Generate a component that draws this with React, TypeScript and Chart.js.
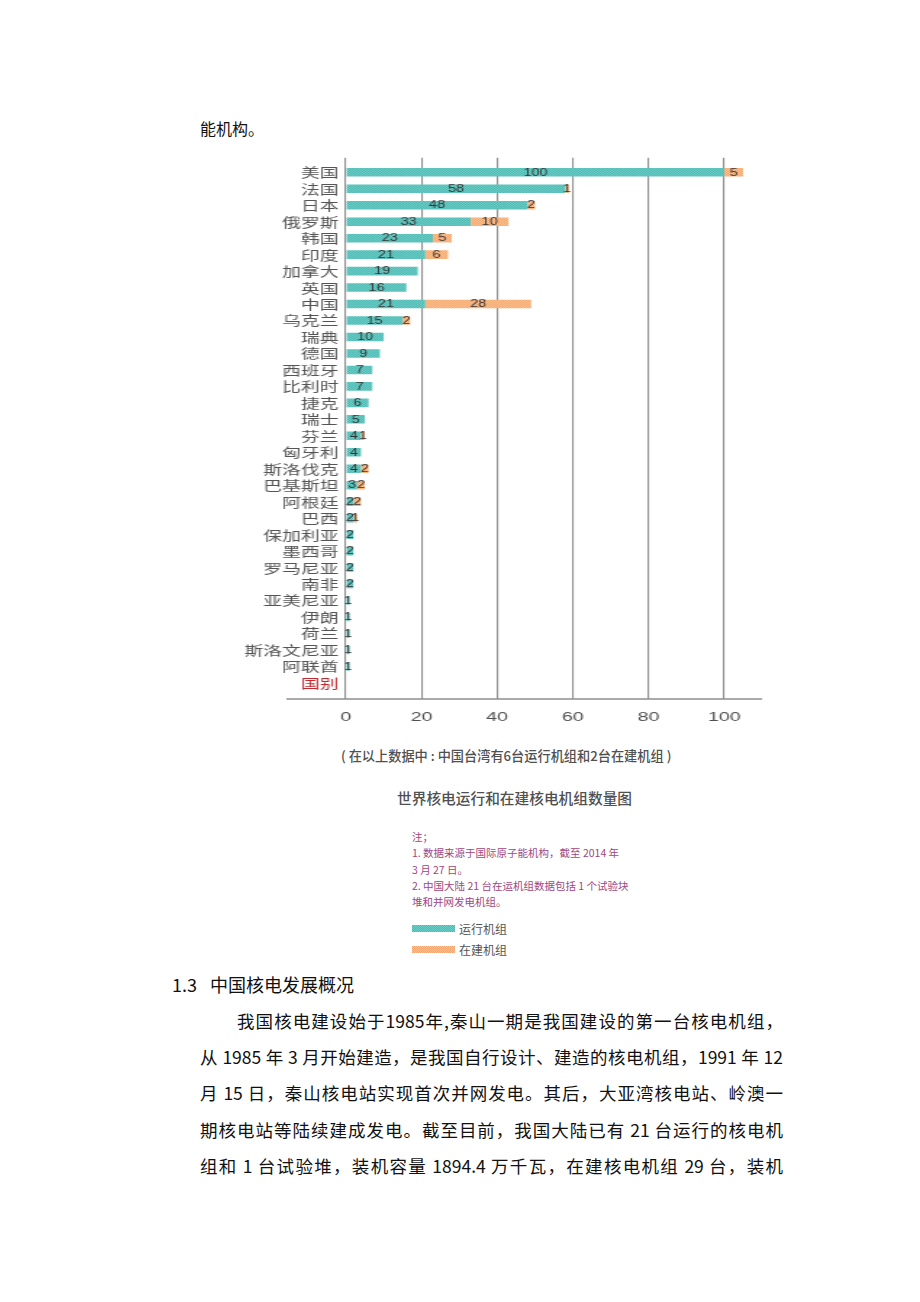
import React, { useEffect, useRef } from 'react';
import { Chart, registerables } from 'chart.js';

Chart.register(...registerables);

// ---------- data ----------
const countries = ['美国', '法国', '日本', '俄罗斯', '韩国', '印度', '加拿大', '英国', '中国', '乌克兰', '瑞典', '德国', '西班牙', '比利时', '捷克', '瑞士', '芬兰', '匈牙利', '斯洛伐克', '巴基斯坦', '阿根廷', '巴西', '保加利亚', '墨西哥', '罗马尼亚', '南非', '亚美尼亚', '伊朗', '荷兰', '斯洛文尼亚', '阿联酋'];
const axisTitle = '国别';
const operating = [100, 58, 48, 33, 23, 21, 19, 16, 21, 15, 10, 9, 7, 7, 6, 5, 4, 4, 4, 3, 2, 2, 2, 2, 2, 2, 1, 1, 1, 1, 1];
const construction = [5, 1, 2, 10, 5, 6, 0, 0, 28, 2, 0, 0, 0, 0, 0, 0, 1, 0, 2, 2, 2, 1, 0, 0, 0, 0, 0, 0, 0, 0, 0];
const xTicks = [0, 20, 40, 60, 80, 100];
const seriesNames = ['运行机组', '在建机组'];

const allLabels = [...countries, axisTitle];

const CJK = '"Noto Sans CJK SC", "Noto Sans", sans-serif';

function makePattern(base: string, dark: string): CanvasPattern | string {
  const c = document.createElement('canvas');
  c.width = 2;
  c.height = 2;
  const g = c.getContext('2d');
  if (!g) return base;
  g.fillStyle = base;
  g.fillRect(0, 0, 2, 2);
  g.fillStyle = dark;
  g.fillRect(0, 0, 1, 1);
  g.fillRect(1, 1, 1, 1);
  return g.createPattern(c, 'repeat') || base;
}

const valueLabels = {
  id: 'valueLabels',
  afterDraw(chart: any) {
    const ctx = chart.ctx;
    ctx.save();
    ctx.font = '10px "Liberation Sans", Arial, sans-serif';
    ctx.fillStyle = '#333';
    ctx.textAlign = 'center';
    ctx.textBaseline = 'middle';
    [operating, construction].forEach((src, di) => {
      const meta = chart.getDatasetMeta(di);
      meta.data.forEach((el: any, i: number) => {
        const v = src[i];
        if (!v) return;
        const p = el.getCenterPoint();
        ctx.fillText(String(v), p.x, p.y + 0.5);
      });
    });
    ctx.restore();
  },
};

const axisLine = {
  id: 'axisLine',
  afterDraw(chart: any) {
    const { ctx, chartArea } = chart;
    ctx.save();
    ctx.strokeStyle = '#8e8e8e';
    ctx.lineWidth = 1.5;
    ctx.beginPath();
    ctx.moveTo(chartArea.left - 41, chartArea.bottom);
    ctx.lineTo(chartArea.right, chartArea.bottom);
    ctx.stroke();
    ctx.restore();
  },
};

function BarChart() {
  const ref = useRef<HTMLCanvasElement | null>(null);
  useEffect(() => {
    if (!ref.current) return;
    const teal = makePattern('#6ccfc8', '#4fb8b2');
    const orange = makePattern('#fcc391', '#f5a66e');
    const chart = new Chart(ref.current, {
      type: 'bar',
      data: {
        datasets: [
          {
            label: seriesNames[0],
            data: operating.map((v, i) => ({ x: v, y: i })) as any,
            backgroundColor: teal as any,
            barPercentage: 0.52,
            categoryPercentage: 1,
            grouped: false,
          },
          {
            label: seriesNames[1],
            data: construction.map((v, i) => ({ x: [operating[i], operating[i] + v], y: i })) as any,
            backgroundColor: orange as any,
            barPercentage: 0.52,
            categoryPercentage: 1,
            grouped: false,
          },
        ],
      },
      options: {
        indexAxis: 'y',
        responsive: false,
        animation: false,
        layout: { padding: { top: 10, right: 12, left: 0, bottom: 0 } },
        plugins: { legend: { display: false }, tooltip: { enabled: false } },
        scales: {
          x: {
            type: 'linear',
            position: 'bottom',
            min: 0,
            max: 110,
            z: 1,
            grid: { color: '#8e8e8e', lineWidth: 1.1, drawTicks: false },
            border: { display: false },
            afterBuildTicks: (s: any) => {
              s.ticks = xTicks.map((v) => ({ value: v }));
            },
            afterFit: (s: any) => {
              s.height = 30;
            },
            ticks: {
              padding: 10,
              maxRotation: 0,
              color: '#505050',
              font: { family: '"Liberation Sans", Arial, sans-serif', size: 13.5 },
            },
          },
          y: {
            type: 'linear',
            reverse: true,
            offset: false,
            min: -0.88,
            max: 31.98,
            grid: { display: false, drawTicks: false, offset: false },
            border: { display: false },
            afterBuildTicks: (s: any) => {
              s.ticks = allLabels.map((_, i) => ({ value: i }));
            },
            afterFit: (s: any) => {
              s.width = 73;
            },
            ticks: {
              autoSkip: false,
              padding: 5,
              font: { family: CJK, size: 13 },
              color: (c: any) => (c.tick && allLabels[c.tick.value] === axisTitle ? '#c0282d' : '#555'),
              callback: (v: any) => allLabels[v] ?? '',
            },
          },
        },
      } as any,
      plugins: [valueLabels, axisLine],
    });
    return () => chart.destroy();
  }, []);
  return (
    <div style={{ position: 'absolute', left: 232, top: 137, width: 372, height: 584, transform: 'scaleX(1.45)', transformOrigin: '0 0' }}>
      <canvas ref={ref} width={372} height={584} style={{ display: 'block' }} />
    </div>
  );
}

function Txt(props: { x: number; cy: number; size: number; lh?: number; w?: number; justify?: boolean; color?: string; weight?: number; children: any }) {
  const lh = props.lh ?? Math.round(props.size * 1.6);
  return (
    <div
      style={{
        position: 'absolute',
        left: props.x - 8,
        top: props.cy - 8 - lh / 2,
        width: props.w,
        height: lh,
        lineHeight: `${lh}px`,
        fontSize: props.size,
        fontFamily: CJK,
        color: props.color ?? '#111',
        fontWeight: props.weight ?? 400,
        whiteSpace: props.justify ? 'normal' : 'nowrap',
        textAlign: props.justify ? 'justify' : 'left',
        textAlignLast: props.justify ? 'justify' : 'auto',
        overflow: 'visible',
      } as any}
    >
      {props.children}
    </div>
  );
}

const noteColor = '#a14680';

export default function App() {
  return (
    <div style={{ position: 'relative', width: 904, height: 1294, background: '#fff' }}>
      <Txt x={200} cy={128} size={16}>能机构。</Txt>
      <BarChart />
      <Txt x={341} cy={755} size={13.2} color="#505050" weight={500}>( 在以上数据中 : 中国台湾有6台运行机组和2台在建机组 )</Txt>
      <Txt x={397} cy={798} size={14.7} color="#505050" weight={500}>世界核电运行和在建核电机组数量图</Txt>
      <Txt x={412} cy={837} size={10.5} lh={16} color={noteColor}>注；</Txt>
      <Txt x={412} cy={853} size={10.5} lh={16} color={noteColor}>1. 数据来源于国际原子能机构，截至 2014 年</Txt>
      <Txt x={412} cy={870} size={10.5} lh={16} color={noteColor}>3 月 27 日。</Txt>
      <Txt x={412} cy={886} size={10.5} lh={16} color={noteColor}>2. 中国大陆 21 台在运机组数据包括 1 个试验块</Txt>
      <Txt x={412} cy={902} size={10.5} lh={16} color={noteColor}>堆和并网发电机组。</Txt>
      <div style={{ position: 'absolute', left: 412 - 8, top: 925 - 8, width: 43, height: 7, background: 'repeating-conic-gradient(#6ccfc8 0 25%, #4fb8b2 0 50%) 0 0/2px 2px' }} />
      <Txt x={459} cy={928} size={12} color="#555">{seriesNames[0]}</Txt>
      <div style={{ position: 'absolute', left: 412 - 8, top: 946 - 8, width: 43, height: 7, background: 'repeating-conic-gradient(#fcc391 0 25%, #f5a66e 0 50%) 0 0/2px 2px' }} />
      <Txt x={459} cy={949} size={12} color="#555">{seriesNames[1]}</Txt>

      <Txt x={172} cy={984} size={18}>1.3</Txt>
      <Txt x={210} cy={984} size={18}>中国核电发展概况</Txt>
      <Txt x={237} cy={1021} size={17.5} lh={36} w={546} justify>我国核电建设始于1985年,秦山一期是我国建设的第一台核电机组，</Txt>
      <Txt x={200} cy={1057} size={17.5} lh={36} w={583} justify>从 1985 年 3 月开始建造，是我国自行设计、建造的核电机组，1991 年 12</Txt>
      <Txt x={200} cy={1093} size={17.5} lh={36} w={583} justify>月 15 日，秦山核电站实现首次并网发电。其后，大亚湾核电站、岭澳一</Txt>
      <Txt x={200} cy={1130} size={17.5} lh={36} w={583} justify>期核电站等陆续建成发电。截至目前，我国大陆已有 21 台运行的核电机</Txt>
      <Txt x={200} cy={1166} size={17.5} lh={36} w={583} justify>组和 1 台试验堆，装机容量 1894.4 万千瓦，在建核电机组 29 台，装机</Txt>
    </div>
  );
}
